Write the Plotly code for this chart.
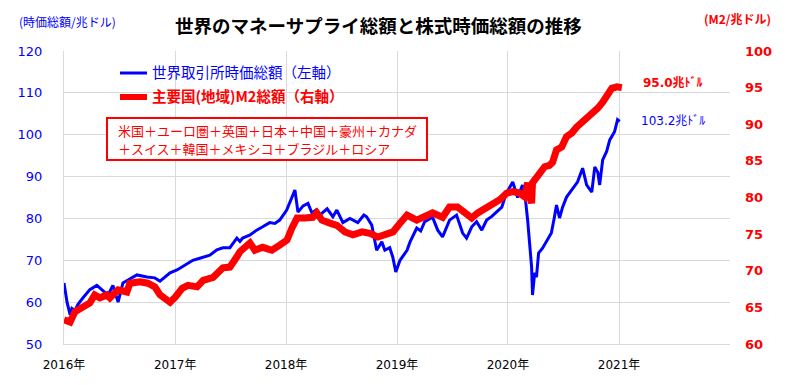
import plotly.graph_objects as go

# ---- data ----
blue_dates = [
    "2016-01-01","2016-01-11","2016-01-21","2016-01-27","2016-02-06","2016-02-16","2016-03-03","2016-03-26",
    "2016-04-18","2016-05-05","2016-05-25","2016-06-10","2016-06-27","2016-07-13","2016-08-05","2016-08-28",
    "2016-09-30","2016-10-26","2016-11-12","2016-12-15",
    "2017-01-07","2017-02-02","2017-02-28","2017-03-23","2017-04-25","2017-05-18","2017-06-07","2017-06-30",
    "2017-07-23","2017-08-02","2017-08-11","2017-09-03","2017-09-26","2017-10-16","2017-11-08","2017-11-25",
    "2017-12-11",
    "2018-01-03","2018-01-16","2018-01-30","2018-02-09","2018-02-26","2018-03-14","2018-03-27","2018-04-09",
    "2018-04-22","2018-05-16","2018-06-04","2018-06-17","2018-07-07","2018-07-30","2018-08-25","2018-09-14",
    "2018-09-23","2018-10-10","2018-10-26","2018-11-12","2018-11-22","2018-12-08","2018-12-18","2018-12-28",
    "2019-01-11","2019-02-03","2019-02-13","2019-03-07","2019-03-20","2019-04-02","2019-04-28","2019-05-15",
    "2019-05-31","2019-06-23","2019-07-16","2019-08-05","2019-08-18","2019-09-04","2019-09-20","2019-10-07",
    "2019-10-23","2019-11-09","2019-11-25","2019-12-12","2019-12-22","2019-12-29",
    "2020-01-17","2020-02-02","2020-02-18","2020-02-28","2020-03-06","2020-03-12","2020-03-19","2020-03-22",
    "2020-03-29","2020-04-04","2020-04-11","2020-04-24","2020-05-10","2020-05-23","2020-06-02","2020-06-09",
    "2020-06-19","2020-06-29","2020-07-12","2020-07-29","2020-08-17","2020-09-03","2020-09-16","2020-10-03",
    "2020-10-13","2020-10-23","2020-10-29","2020-11-08","2020-11-21","2020-12-01","2020-12-17","2020-12-27",
    "2021-01-03",
]
blue_values = [
    64.6, 60.0, 57.0, 58.5, 58.0, 59.5, 61.0, 63.0, 64.0, 63.0, 61.7, 64.0, 60.0, 64.6, 65.5, 66.5,
    66.0, 65.8, 65.0, 67.0,
    67.7, 68.8, 70.0, 70.5, 71.2, 72.5, 73.0, 73.0, 75.3, 74.5, 75.3, 76.0, 77.2, 78.0, 79.0, 78.8,
    79.6,
    82.0, 84.5, 86.8, 81.5, 83.0, 83.6, 81.3, 82.0, 80.8, 82.3, 80.4, 82.0, 79.0, 80.0, 79.0, 80.8,
    80.4, 78.4, 72.4, 74.4, 72.4, 73.0, 70.8, 67.2,
    70.0, 72.4, 74.4, 77.7, 77.0, 79.2, 80.3, 77.2, 75.6, 79.6, 80.8, 76.5, 75.3, 78.0, 79.2, 77.2,
    79.6, 80.5, 81.5, 82.7, 85.0, 86.3,
    88.7, 85.0, 88.0, 84.4, 79.6, 74.0, 68.4, 61.7, 67.0, 66.0, 71.7, 72.9, 74.8, 76.5, 80.3, 83.2,
    80.1, 82.7, 85.1, 86.8, 88.7, 92.0, 88.0, 86.3, 92.3, 91.0, 88.0, 94.0, 96.0, 98.7, 100.7, 103.6,
    103.2,
]

red_dates = [
    "2016-01-01","2016-01-21","2016-02-06","2016-03-03","2016-03-26","2016-04-11","2016-04-28","2016-05-21",
    "2016-05-31","2016-06-27","2016-07-26","2016-08-05","2016-09-07","2016-10-03","2016-10-26","2016-11-12",
    "2016-11-28","2016-12-15",
    "2017-01-01","2017-01-24","2017-02-12","2017-03-14","2017-04-03","2017-05-06","2017-06-07","2017-06-30",
    "2017-07-23","2017-08-02","2017-09-04","2017-09-20","2017-10-16","2017-11-15","2017-12-11",
    "2018-01-04","2018-01-20","2018-02-06","2018-03-04","2018-03-30","2018-04-12","2018-04-29","2018-05-25",
    "2018-06-17","2018-07-14","2018-08-09","2018-09-08","2018-10-04","2018-10-30","2018-11-29","2018-12-19",
    "2019-01-11","2019-02-03","2019-03-07","2019-04-09","2019-04-28","2019-05-31","2019-06-23","2019-07-19",
    "2019-08-18","2019-09-04","2019-09-24","2019-10-23","2019-11-12","2019-12-05","2019-12-28",
    "2020-01-17","2020-02-08","2020-02-25","2020-03-06","2020-03-19","2020-03-22","2020-04-04","2020-04-21",
    "2020-05-01","2020-05-17","2020-05-27","2020-06-09","2020-06-26","2020-07-12","2020-07-29","2020-08-14",
    "2020-09-03","2020-09-20","2020-10-06","2020-10-23","2020-11-08","2020-11-25","2020-12-08","2020-12-25",
    "2021-01-10",
]
red_values = [
    63.3, 63.0, 64.4, 65.1, 65.6, 66.7, 66.3, 66.7, 66.3, 67.4, 67.1, 68.3, 68.5, 68.3, 67.8, 66.7,
    66.3, 65.7,
    66.4, 67.6, 68.0, 67.8, 68.7, 69.1, 70.4, 70.5, 71.9, 72.6, 73.8, 72.8, 73.2, 72.8, 73.5,
    74.2, 75.8, 77.2, 77.2, 77.3, 77.9, 76.9, 76.5, 76.2, 75.3, 74.9, 75.3, 75.1, 74.6, 75.1, 75.3,
    76.5, 77.6, 76.9, 77.6, 77.9, 77.3, 78.7, 78.7, 77.9, 77.2, 77.9, 78.6, 79.3, 79.7, 80.6,
    80.8, 80.6, 80.1, 82.0, 79.2, 82.0, 82.8, 83.8, 84.2, 84.4, 84.8, 86.5, 86.9, 88.3, 88.8, 89.6,
    90.3, 91.0, 91.5, 92.2, 93.0, 94.0, 94.9, 95.1,
    95.0,
]

x_tick_vals = ["2016-01-01", "2017-01-01", "2018-01-01", "2019-01-01", "2020-01-01", "2021-01-01"]
x_tick_text = ["2016年", "2017年", "2018年", "2019年", "2020年", "2021年"]

blue_name = "世界取引所時価総額（左軸）"
red_name = "主要国(地域)M2総額（右軸）"
box_lines = ["米国＋ユーロ圏＋英国＋日本＋中国＋豪州＋カナダ", "＋スイス＋韓国＋メキシコ＋ブラジル＋ロシア"]
blue_end_label = "103.2兆ﾄﾞﾙ"
red_end_label = "95.0兆ﾄﾞﾙ"

assert len(blue_dates) == len(blue_values)
assert len(red_dates) == len(red_values)

BLUE = "#0000ff"
RED = "#ff0000"
GRID = "#d9d9d9"
JP = "Noto Sans CJK JP"
NUM = "DejaVu Sans, Noto Sans CJK JP"

W, H = 796, 385
L, R, T, B = 64, 66, 51, 41
PW, PH = W - L - R, H - T - B


def px(xp):
    return (xp - L) / PW


def py(yp):
    return (H - B - yp) / PH


fig = go.Figure()
fig.add_trace(go.Scatter(x=blue_dates, y=blue_values, mode="lines", name=blue_name,
                         line=dict(color=BLUE, width=3), yaxis="y", showlegend=False))
fig.add_trace(go.Scatter(x=red_dates, y=red_values, mode="lines", name=red_name,
                         line=dict(color=RED, width=7), yaxis="y2", showlegend=False))

fig.update_layout(
    width=W, height=H,
    margin=dict(l=L, r=R, t=T, b=B),
    paper_bgcolor="white", plot_bgcolor="white",
    font=dict(family=JP, color="black"),
    xaxis=dict(
        type="date", range=["2016-01-01", "2022-01-01"],
        tickvals=x_tick_vals, ticktext=x_tick_text,
        showgrid=True, gridcolor=GRID, gridwidth=1,
        showline=True, linecolor=GRID, linewidth=1,
        tickfont=dict(family=NUM, size=12, color="black"),
        ticks="", ticklabelstandoff=10, zeroline=False,
    ),
    yaxis=dict(
        range=[50, 120], dtick=10, tick0=50,
        showgrid=True, gridcolor=GRID, gridwidth=1,
        showline=True, linecolor=GRID, linewidth=1,
        tickfont=dict(family=NUM, size=13, color=BLUE),
        ticks="", ticklabelstandoff=18, zeroline=False,
    ),
    yaxis2=dict(
        range=[60, 100], dtick=5, tick0=60, overlaying="y", side="right",
        showgrid=False, showline=False, zeroline=False,
        tickfont=dict(family=NUM, size=13, color=RED, weight="bold"),
        ticks="", ticklabelstandoff=14,
    ),
)

ann = []
# title
ann.append(dict(text="<b>世界のマネーサプライ総額と株式時価総額の推移</b>", x=px(378), y=py(25),
                xref="paper", yref="paper", xanchor="center", yanchor="middle", showarrow=False,
                font=dict(family=JP, size=18.5, color="black")))
# axis titles
ann.append(dict(text="(時価総額/兆ドル)", x=px(17), y=py(21), xref="paper", yref="paper",
                xanchor="left", yanchor="middle", showarrow=False,
                font=dict(family=JP, size=12, color=BLUE)))
ann.append(dict(text="<b>(M2/兆ドル)</b>", x=px(773), y=py(18), xref="paper", yref="paper",
                xanchor="right", yanchor="middle", showarrow=False,
                font=dict(family=JP, size=12, color=RED)))
# legend texts
ann.append(dict(text=blue_name, x=px(150), y=py(72), xref="paper", yref="paper",
                xanchor="left", yanchor="middle", showarrow=False,
                font=dict(family=JP, size=14.5, color=BLUE)))
ann.append(dict(text="<b>" + red_name + "</b>", x=px(150), y=py(96), xref="paper", yref="paper",
                xanchor="left", yanchor="middle", showarrow=False,
                font=dict(family=JP, size=14.5, color=RED)))
# box text
ann.append(dict(text=box_lines[0], x=px(116), y=py(130), xref="paper", yref="paper",
                xanchor="left", yanchor="middle", showarrow=False,
                font=dict(family=JP, size=13, color=RED)))
ann.append(dict(text=box_lines[1], x=px(116), y=py(148), xref="paper", yref="paper",
                xanchor="left", yanchor="middle", showarrow=False,
                font=dict(family=JP, size=13, color=RED)))
# end labels
ann.append(dict(text="<b>" + red_end_label + "</b>", x=px(641), y=py(83), xref="paper", yref="paper",
                xanchor="left", yanchor="middle", showarrow=False,
                font=dict(family=NUM, size=12, color=RED)))
ann.append(dict(text=blue_end_label, x=px(639), y=py(121), xref="paper", yref="paper",
                xanchor="left", yanchor="middle", showarrow=False,
                font=dict(family=NUM, size=12, color=BLUE)))
fig.update_layout(annotations=ann)

shapes = [
    dict(type="line", xref="paper", yref="paper", x0=px(120), x1=px(147), y0=py(73), y1=py(73),
         line=dict(color=BLUE, width=3)),
    dict(type="line", xref="paper", yref="paper", x0=px(120), x1=px(147), y0=py(97), y1=py(97),
         line=dict(color=RED, width=6)),
    dict(type="rect", xref="paper", yref="paper", x0=px(107), x1=px(427), y0=py(160), y1=py(118),
         line=dict(color=RED, width=2), fillcolor="white", layer="above"),
]
fig.update_layout(shapes=shapes)

fig.write_html("out.html", config={"displayModeBar": False},
               post_script="document.body.style.margin='0';document.body.style.padding='0';")
